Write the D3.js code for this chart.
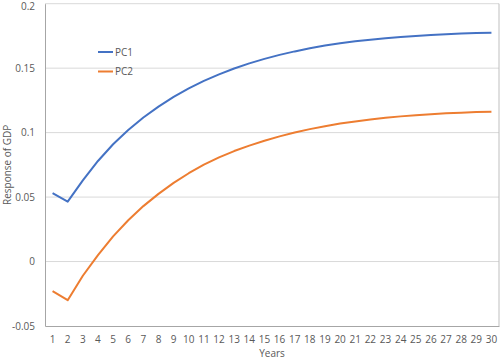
<!DOCTYPE html>
<html><head><meta charset="utf-8">
<script src="https://cdn.jsdelivr.net/npm/d3@7"></script>
<style>body{margin:0;background:#fff}svg{display:block}text{font-family:"Open Sans","Liberation Sans",sans-serif}</style>
</head><body><svg id="c" width="500" height="359"></svg>
<script>
const years = d3.range(1, 31);
const pc1 = [0.053,0.0465,0.063,0.078,0.091,0.102,0.1117,0.1202,0.1277,0.1343,0.1401,0.1452,0.1497,0.1537,0.1572,0.1603,0.163,0.1654,0.1675,0.1693,0.1708,0.1721,0.1732,0.1742,0.175,0.1757,0.1763,0.1768,0.1772,0.1775];
const pc2 = [-0.023,-0.030,-0.011,0.005,0.0195,0.032,0.043,0.0525,0.061,0.0685,0.0751,0.0808,0.0857,0.0899,0.0937,0.0971,0.1001,0.1027,0.105,0.107,0.1087,0.1102,0.1115,0.1126,0.1135,0.1143,0.115,0.1155,0.1159,0.1162];
const yTicks = [-0.05, 0, 0.05, 0.1, 0.15, 0.2];
const seriesNames = ["PC1", "PC2"];
const colors = ["#4472C4", "#ED7D31"];

const svg = d3.select("#c");
const L = 45, R = 499, T = 3.7, B = 326;
const x = d3.scaleBand().domain(years).range([L, R]);
const y = d3.scaleLinear().domain([-0.05, 0.2]).range([B, T]);

// gridlines
svg.append("g").selectAll("line").data(yTicks.filter(d => d !== -0.05)).join("line")
  .attr("x1", L).attr("x2", R).attr("y1", d => y(d)).attr("y2", d => y(d))
  .attr("stroke", "#d9d9d9").attr("stroke-width", 1);
// right border
svg.append("line").attr("x1", R).attr("x2", R).attr("y1", T).attr("y2", B).attr("stroke", "#bfbfbf");

// y axis
const ya = svg.append("g").attr("transform", `translate(${L},0)`)
  .call(d3.axisLeft(y).tickValues(yTicks).tickSize(0).tickPadding(10).tickFormat(d => String(+d.toFixed(2))));
ya.select(".domain").attr("stroke", "#a6a6a6");
ya.selectAll("text").attr("fill", "#595959").style("font-size", "10px");
ya.selectAll(".tick").filter(d => d === 0.2).select("text").attr("y", 2.6);

// x axis
const xa = svg.append("g").attr("transform", `translate(0,${B})`)
  .call(d3.axisBottom(x).tickSize(0).tickPadding(10));
xa.select(".domain").attr("stroke", "#a6a6a6");
xa.selectAll("text").attr("fill", "#595959").style("font-size", "10px");

// lines
const line = d3.line().x((d, i) => x(years[i]) + x.bandwidth() / 2).y(d => y(d));
[pc1, pc2].forEach((s, k) => {
  svg.append("path").datum(s).attr("d", line).attr("fill", "none")
    .attr("stroke", colors[k]).attr("stroke-width", 2).attr("stroke-linejoin", "round");
});

// legend
seriesNames.forEach((n, k) => {
  const ly = 52 + k * 19.5;
  svg.append("line").attr("x1", 98).attr("x2", 113).attr("y1", ly).attr("y2", ly)
    .attr("stroke", colors[k]).attr("stroke-width", 2);
  svg.append("text").attr("x", 115).attr("y", ly + 3.5).text(n)
    .attr("fill", "#595959").style("font-size", "10px");
});

// axis titles
svg.append("text").attr("x", (L + R) / 2).attr("y", 357).attr("text-anchor", "middle")
  .text("Years").attr("fill", "#595959").style("font-size", "10px");
svg.append("text").attr("transform", `translate(11,${(T + B) / 2}) rotate(-90)`)
  .attr("text-anchor", "middle").text("Response of GDP").attr("fill", "#595959").style("font-size", "10px");
</script></body></html>
